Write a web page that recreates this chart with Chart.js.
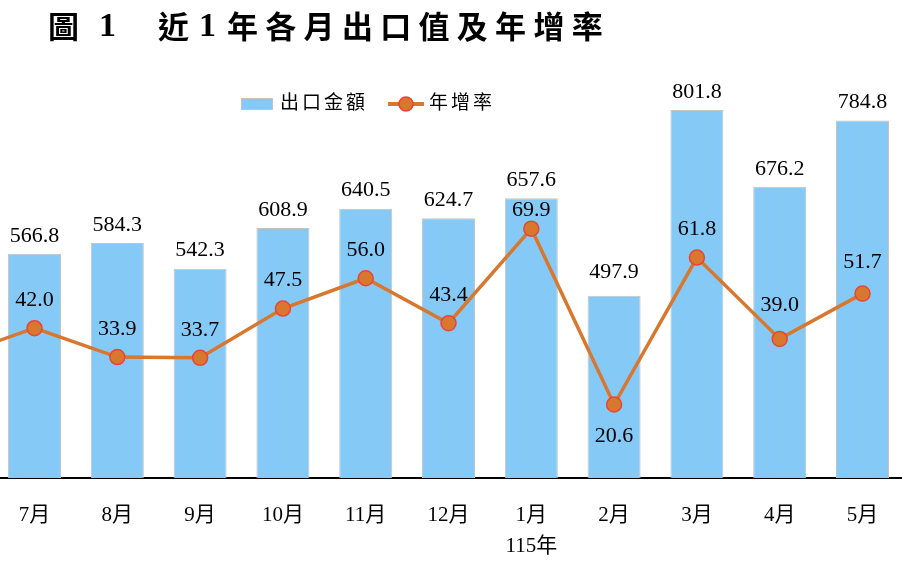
<!DOCTYPE html>
<html lang="zh-Hant">
<head>
<meta charset="utf-8">
<title>近1年各月出口值及年增率</title>
<script src="https://cdn.jsdelivr.net/npm/chart.js@4.4.1/dist/chart.umd.min.js"></script>
<style>
  html, body { margin: 0; padding: 0; background: #fff; }
  #wrap { position: relative; width: 902px; height: 562px; overflow: hidden; }
  #title { position: absolute; top: 0; left: 0; width: 902px; height: 50px;
    font-family: 'Noto Sans CJK TC', 'Noto Sans CJK SC', sans-serif; font-weight: 700; font-size: 31px; color: #000; }
  #title span { position: absolute; top: 6px; line-height: 38px; white-space: pre; }
  #title .num { font-family: 'Liberation Serif', serif; font-size: 34px; }
  #title .rest { letter-spacing: 7.3px; }
  canvas { position: absolute; left: 0; top: 0; }
</style>
</head>
<body>
<div id="wrap">
  <canvas id="chart" width="902" height="562"></canvas>
  <div id="title">
    <span style="left:48px">圖</span><span class="num" style="left:99px">1</span><span style="left:158px">近</span><span class="num" style="left:199px">1</span><span class="rest" style="left:227px">年各月出口值及年增率</span>
  </div>
</div>
<script>
// x index: 6月 = -1 (only its growth point, off the left edge), 7月 = 0 ... 5月 = 10
const tickLabels = ['7月', '8月', '9月', '10月', '11月', '12月', ['1月', '115年'], '2月', '3月', '4月', '5月'];
const exportValues = [566.8, 584.3, 542.3, 608.9, 640.5, 624.7, 657.6, 497.9, 801.8, 676.2, 784.8];
const prevMonthGrowth = 33.9; // 6月, cut off at the left edge
const growthRates = [42.0, 33.9, 33.7, 47.5, 56.0, 43.4, 69.9, 20.6, 61.8, 39.0, 51.7];

// label gaps (px) — a few were nudged by hand in the original
const barLabelGap = { default: 18, '2月': 24 };
const growthLabelGap = { default: 28, '1月': 18, '2月': -32, '4月': 34, '5月': 31 };

const barColor = '#85C9F7';
const barBorder = '#C4C4C4';
const lineColor = '#D8772E';
const pointBorder = '#E8453A';
const serif = "'Liberation Serif', 'Noto Sans CJK TC', serif";

const barData = exportValues.map((v, i) => ({ x: i, y: v }));
const lineData = [{ x: -1, y: prevMonthGrowth }].concat(growthRates.map((v, i) => ({ x: i, y: v })));

const monthName = i => Array.isArray(tickLabels[i]) ? tickLabels[i][0] : tickLabels[i];
const gapFor = (map, i) => (monthName(i) in map ? map[monthName(i)] : map.default);

// value labels above bars / line points
const valueLabels = {
  id: 'valueLabels',
  afterDatasetsDraw(chart) {
    const ctx = chart.ctx;
    const area = chart.chartArea;
    ctx.save();
    ctx.font = '22px ' + serif;
    ctx.fillStyle = '#000';
    ctx.textAlign = 'center';
    ctx.textBaseline = 'middle';
    chart.getDatasetMeta(0).data.forEach((bar, i) => {
      ctx.fillText(exportValues[i].toFixed(1), bar.x, bar.y - gapFor(barLabelGap, i));
    });
    chart.getDatasetMeta(1).data.forEach((pt, i) => {
      if (i === 0 || pt.x < area.left) return;
      const k = i - 1;
      ctx.fillText(growthRates[k].toFixed(1), pt.x, pt.y - gapFor(growthLabelGap, k));
    });
    ctx.restore();
  }
};

// legend drawn inside the plot area
const innerLegend = {
  id: 'innerLegend',
  afterDraw(chart) {
    const ctx = chart.ctx;
    ctx.save();
    ctx.font = '19px ' + serif;
    ctx.letterSpacing = '3px';
    ctx.textBaseline = 'middle';
    const y = 104;
    ctx.fillStyle = barColor;
    ctx.fillRect(241, 98, 32, 12);
    ctx.strokeStyle = barBorder;
    ctx.lineWidth = 1;
    ctx.strokeRect(241.5, 98.5, 31, 11);
    ctx.fillStyle = '#000';
    ctx.fillText(chart.data.datasets[0].label, 280, y);
    ctx.strokeStyle = lineColor;
    ctx.lineWidth = 4;
    ctx.beginPath();
    ctx.moveTo(388, y);
    ctx.lineTo(424, y);
    ctx.stroke();
    ctx.beginPath();
    ctx.arc(406, y, 7, 0, Math.PI * 2);
    ctx.fillStyle = lineColor;
    ctx.fill();
    ctx.lineWidth = 1.5;
    ctx.strokeStyle = pointBorder;
    ctx.stroke();
    ctx.fillStyle = '#000';
    ctx.fillText(chart.data.datasets[1].label, 429, y);
    ctx.restore();
  }
};

new Chart(document.getElementById('chart'), {
  type: 'bar',
  data: {
    datasets: [
      {
        type: 'bar',
        label: '出口金額',
        data: barData,
        backgroundColor: barColor,
        borderColor: barBorder,
        borderWidth: 1,
        categoryPercentage: 0.8,
        barPercentage: 0.8,
        yAxisID: 'y',
        order: 2
      },
      {
        type: 'line',
        label: '年增率',
        data: lineData,
        borderColor: lineColor,
        borderWidth: 3.5,
        pointRadius: 7.5,
        pointBackgroundColor: lineColor,
        pointBorderColor: pointBorder,
        pointBorderWidth: 1.5,
        tension: 0,
        yAxisID: 'y2',
        order: 1
      }
    ]
  },
  options: {
    responsive: false,
    animation: false,
    layout: { autoPadding: false, padding: { top: 50, left: 0, right: 0, bottom: 0 } },
    plugins: {
      legend: { display: false },
      tooltip: { enabled: false }
    },
    scales: {
      x: {
        type: 'linear',
        offset: false,
        min: -0.417,
        max: 10.477,
        grid: { display: false, drawTicks: false },
        border: { display: true, color: '#000', width: 2 },
        afterBuildTicks: scale => {
          scale.ticks = tickLabels.map((_, i) => ({ value: i }));
        },
        afterFit: scale => {
          scale.height = 84;
          scale.paddingLeft = 0;
          scale.paddingRight = 0;
        },
        ticks: {
          autoSkip: false,
          maxRotation: 0,
          padding: 22,
          color: '#000',
          font: { family: serif, size: 21, lineHeight: 1.48 },
          callback: value => tickLabels[value]
        }
      },
      y: { display: false, min: 200, max: 900 },
      y2: { display: false, position: 'right', min: 0, max: 120 }
    }
  },
  plugins: [valueLabels, innerLegend]
});
</script>
</body>
</html>
